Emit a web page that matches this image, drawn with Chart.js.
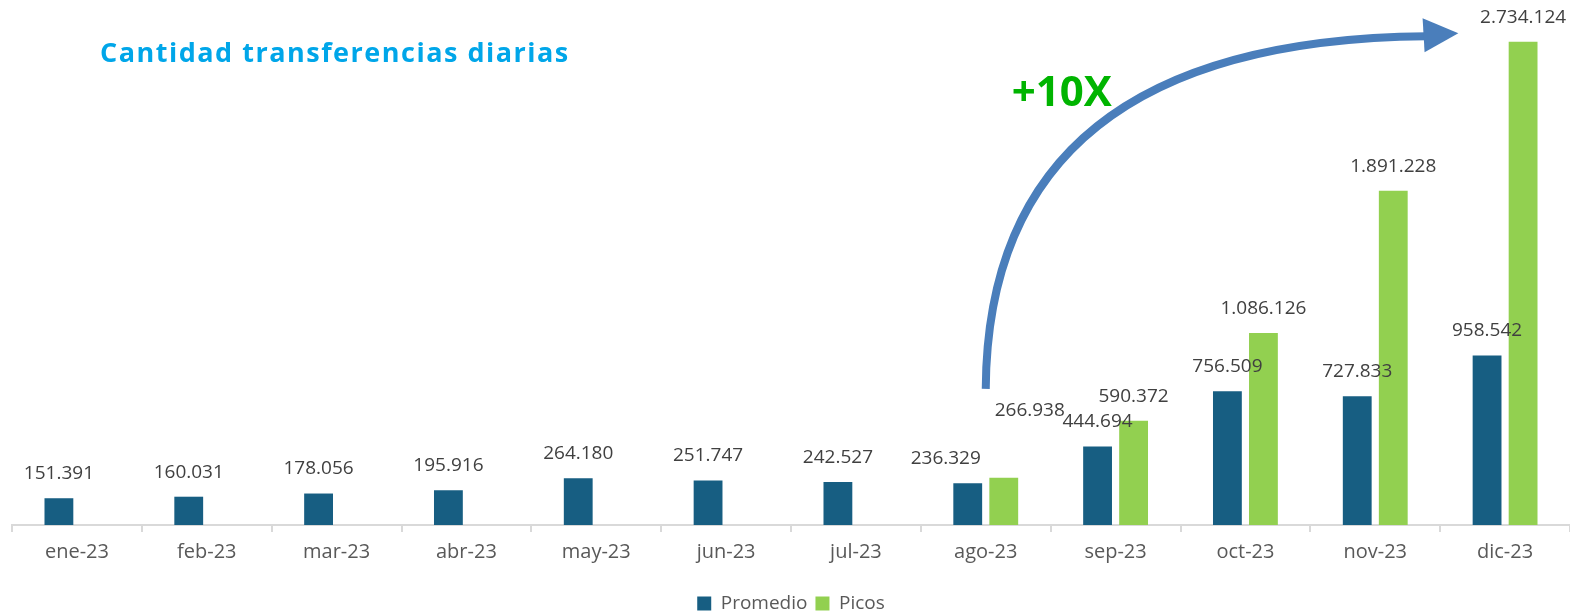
<!DOCTYPE html>
<html>
<head>
<meta charset="utf-8">
<script src="https://cdn.jsdelivr.net/npm/chart.js@4.4.1/dist/chart.umd.min.js"></script>
<style>
  html, body { margin: 0; padding: 0; background: #fff; overflow: hidden; }
  #wrap { width: 1570px; height: 623px; }
</style>
</head>
<body>
<div id="wrap"><canvas id="mycanvas"></canvas></div>
<script>
// data
var months = ['ene-23', 'feb-23', 'mar-23', 'abr-23', 'may-23', 'jun-23', 'jul-23', 'ago-23', 'sep-23', 'oct-23', 'nov-23', 'dic-23'];
var promedio = [151391, 160031, 178056, 195916, 264180, 251747, 242527, 236329, 444694, 756509, 727833, 958542];
var picos = [null, null, null, null, null, null, null, 266938, 590372, 1086126, 1891228, 2734124];
var seriesNames = ['Promedio', 'Picos'];
var chartTitle = 'Cantidad transferencias diarias';
var growthText = '+10X';

function fmt(v) {
  return String(v).replace(/\B(?=(\d{3})+(?!\d))/g, '.');
}

// value labels + arrow + texts
var extras = {
  id: 'extras',
  afterDatasetsDraw: function(chart) {
    var ctx = chart.ctx;
    var x = chart.scales.x, y = chart.scales.y;
    var area = chart.chartArea;
    ctx.save();

    // labels
    ctx.font = '19px "Open Sans"';
    ctx.fillStyle = '#404040';
    ctx.textAlign = 'center';
    ctx.textBaseline = 'bottom';
    var m0 = chart.getDatasetMeta(0), m1 = chart.getDatasetMeta(1);
    for (var i = 0; i < months.length; i++) {
      var b0 = m0.data[i];
      var y0 = b0.y - 15;
      var t0 = fmt(promedio[i]);
      var w0 = ctx.measureText(t0).width;
      var x0 = b0.x;
      if (picos[i] != null) {
        var b1 = m1.data[i];
        var t1 = fmt(picos[i]);
        var w1 = ctx.measureText(t1).width;
        var y1 = b1.y - 15;
        var x1 = b1.x;
        var overlapX = Math.abs(b1.x - b0.x) < (w0 + w1) / 2;
        var overlapY = Math.abs(y1 - y0) < 22;
        if (overlapX && overlapY) {
          // push the two labels apart
          y1 = y0 - 48;
          x0 -= 22;
          x1 += 26;
        }
        ctx.fillText(t1, x1, y1);
      }
      ctx.fillText(t0, x0, y0);
    }

    // curved arrow from ago to dic
    var sx = x.getPixelForValue(7), sy = y.getPixelForValue(770000);
    var ex = x.getPixelForValue(10.38), ey = y.getPixelForValue(2765000);
    var tipX = x.getPixelForValue(10.64);
    ctx.strokeStyle = '#4A7EBB';
    ctx.fillStyle = '#4A7EBB';
    ctx.lineWidth = 8;
    ctx.beginPath();
    ctx.moveTo(sx, sy);
    ctx.quadraticCurveTo(sx + 2, ey + 4, ex + 2, ey);
    ctx.stroke();
    ctx.beginPath();
    ctx.moveTo(ex - 2, ey - 18);
    ctx.lineTo(tipX, ey - 3);
    ctx.lineTo(ex, ey + 16);
    ctx.closePath();
    ctx.fill();

    // +10X
    ctx.fillStyle = '#00B400';
    ctx.font = 'bold 42px "Open Sans"';
    ctx.textAlign = 'left';
    ctx.textBaseline = 'alphabetic';
    ctx.fillText(growthText, sx + 26, y.getPixelForValue(2370000));

    // title
    ctx.fillStyle = '#00A6E9';
    ctx.font = 'bold 27px "Open Sans"';
    ctx.letterSpacing = '1.5px';
    ctx.textBaseline = 'middle';
    ctx.fillText(chartTitle, area.left + 88, 54);
    ctx.restore();
  }
};

var chartdata = {
  labels: months,
  datasets: [
    {
      label: seriesNames[0],
      backgroundColor: '#175E82',
      data: promedio,
      categoryPercentage: 0.555,
      barPercentage: 0.8
    },
    {
      label: seriesNames[1],
      backgroundColor: '#92D050',
      data: picos,
      categoryPercentage: 0.555,
      barPercentage: 0.8
    }
  ]
};

var ctx = document.getElementById('mycanvas');

var BarGraph = new Chart(ctx, {
  type: 'bar',
  data: chartdata,
  plugins: [extras],
  options: {
    responsive: true,
    maintainAspectRatio: false,
    animation: { duration: 0 },
    layout: { padding: { left: 12, right: 0, top: 30, bottom: 0 } },
    scales: {
      x: {
        border: { color: '#D9D9D9', width: 2 },
        grid: { display: true, drawOnChartArea: false, color: '#D9D9D9', tickLength: 7, lineWidth: 2 },
        ticks: { color: '#595959', font: { family: 'Open Sans', size: 20 }, padding: 8 },
        afterFit: function(scale) { scale.height += 14; }
      },
      y: {
        display: false,
        min: 0,
        max: 2800000
      }
    },
    plugins: {
      legend: {
        position: 'bottom',
        labels: {
          boxWidth: 14,
          boxHeight: 14,
          padding: 8,
          color: '#595959',
          font: { family: 'Open Sans', size: 19 }
        }
      },
      tooltip: { enabled: false }
    }
  }
});
</script>
</body>
</html>
